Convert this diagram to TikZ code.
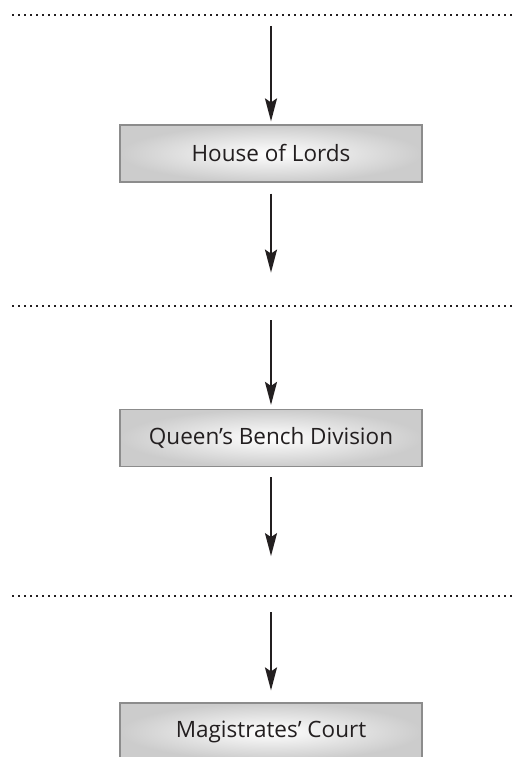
\documentclass[tikz,border=0pt]{standalone}
\usepackage{fontspec}
\setmainfont{Open Sans}
\usetikzlibrary{positioning,arrows.meta}
\definecolor{inkdark}{HTML}{231F20}
\definecolor{boxedge}{HTML}{8C8C8C}
\tikzset{
court/.style={
  rectangle, draw=boxedge, line width=1.2pt,
  inner color=white, outer color=gray!40,
  minimum width=302pt, minimum height=57pt,
  font=\fontsize{22.5}{26}\selectfont, text=inkdark
  },
appeal/.style={
  draw=inkdark, line width=2pt,
  -{Stealth[length=23pt,width=12pt,inset=4pt]}
  },
cutline/.style={
  draw=inkdark, line width=1.6pt,
  dash pattern=on 1.6pt off 4.4pt
  }
}

\begin{document}
\begin{tikzpicture}[x=1pt,y=-1pt]
\useasboundingbox (0,0) rectangle (514,757);
\clip (0,0) rectangle (514,757);

% dotted separators
\coordinate (cut1w) at (12,15);
\coordinate (cut1e) at (514,15);
\coordinate (cut2w) at (12,306);
\coordinate (cut2e) at (514,306);
\coordinate (cut3w) at (12,596);
\coordinate (cut3e) at (514,596);

\draw[cutline] (cut1w) -- (cut1e);
\draw[cutline] (cut2w) -- (cut2e);
\draw[cutline] (cut3w) -- (cut3e);

% courts
\node[court] (lords) at (271,153.5) {House of Lords};
\node[court] (qbd) at (271,438) {Queen’s Bench Division};
\node[court] (mags) at (271,731.5) {Magistrates’ Court};

% arrow ends
\coordinate (lordsin) at (271,26);
\coordinate[below=90pt of lords.south] (lordsout);
\coordinate (qbdin) at (271,320);
\coordinate[below=89pt of qbd.south] (qbdout);
\coordinate (magsin) at (271,612);

% arrows
\draw[appeal, shorten >=3pt] (lordsin) -- (lords.north);
\draw[appeal, shorten <=11pt] (lords.south) -- (lordsout);
\draw[appeal, shorten >=4pt] (qbdin) -- (qbd.north);
\draw[appeal, shorten <=10pt] (qbd.south) -- (qbdout);
\draw[appeal, shorten >=12pt] (magsin) -- (mags.north);

\end{tikzpicture}
\end{document}
